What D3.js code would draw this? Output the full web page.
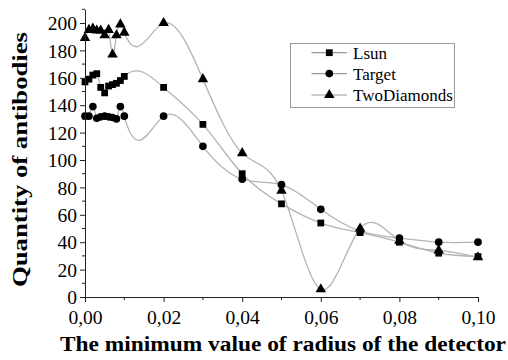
<!DOCTYPE html>
<html><head><meta charset="utf-8">
<script src="https://cdn.jsdelivr.net/npm/d3@7"></script>
<style>
html,body{margin:0;padding:0;background:#fff;}
svg{display:block;}
svg text{font-family:"Liberation Serif","Tinos","Times New Roman","Noto Serif","DejaVu Serif",serif;fill:#000;}
</style></head>
<body>
<svg id="chart" width="508" height="360"></svg>
<script>
// ---- data ----
const radius = [0, 0.001, 0.002, 0.003, 0.004, 0.005, 0.006, 0.007, 0.008, 0.009, 0.01,
                0.02, 0.03, 0.04, 0.05, 0.06, 0.07, 0.08, 0.09, 0.10];
const lsun = [157, 159, 162, 163, 153, 149, 154, 155, 156, 158, 161,
              153, 126, 90, 68, 54, 47, 40, 32, 29.5];
const target = [132, 132, 139, 130.5, 131.5, 132, 131.5, 131, 130, 139, 132,
                132, 110, 86, 82, 64, 48, 43, 40, 40];
const twoDiamonds = [189, 195, 196, 194.5, 194.5, 191, 195, 177, 191, 199, 193,
                     200, 159, 105, 77.6, 5.6, 50, 41, 34, 29];
const seriesNames = ["Lsun", "Target", "TwoDiamonds"];
const seriesMarkers = ["square", "circle", "triangle"];
const xTicks = [0, 0.02, 0.04, 0.06, 0.08, 0.10];
const yTicks = [0, 20, 40, 60, 80, 100, 120, 140, 160, 180, 200];
const xTitle = "The minimum value of radius of the detector";
const yTitle = "Quantity of antibodies";

const seriesValues = [lsun, target, twoDiamonds];

// ---- natural cubic spline in x as a d3 curve ----
function SplineX(context){ this._context = context; }
SplineX.prototype = {
  areaStart(){ this._line = 0; },
  areaEnd(){ this._line = NaN; },
  lineStart(){ this._xs = []; this._ys = []; },
  point(px, py){ this._xs.push(+px); this._ys.push(+py); },
  lineEnd(){
    const X = this._xs, Y = this._ys, n = X.length, c = this._context;
    if (!n) return;
    c.moveTo(X[0], Y[0]);
    if (n < 3) { for (let i = 1; i < n; i++) c.lineTo(X[i], Y[i]); return; }
    const h = [], M = new Array(n).fill(0);
    for (let i = 0; i < n - 1; i++) h.push(X[i+1] - X[i]);
    const m = n - 2, a = [], b = [], cc = [], d = [];
    for (let k = 0; k < m; k++) {
      const i = k + 1;
      a.push(h[i-1]); b.push(2 * (h[i-1] + h[i])); cc.push(h[i]);
      d.push(6 * ((Y[i+1] - Y[i]) / h[i] - (Y[i] - Y[i-1]) / h[i-1]));
    }
    for (let k = 1; k < m; k++) {
      const w = a[k] / b[k-1];
      b[k] -= w * cc[k-1]; d[k] -= w * d[k-1];
    }
    const sol = new Array(m);
    sol[m-1] = d[m-1] / b[m-1];
    for (let k = m - 2; k >= 0; k--) sol[k] = (d[k] - cc[k] * sol[k+1]) / b[k];
    for (let k = 0; k < m; k++) M[k+1] = sol[k];
    for (let i = 0; i < n - 1; i++) {
      const hh = h[i], s = (Y[i+1] - Y[i]) / hh;
      const m0 = s - hh * (2 * M[i] + M[i+1]) / 6;
      const m1 = s + hh * (M[i] + 2 * M[i+1]) / 6;
      c.bezierCurveTo(X[i] + hh/3, Y[i] + m0*hh/3, X[i+1] - hh/3, Y[i+1] - m1*hh/3, X[i+1], Y[i+1]);
    }
  }
};
const curveSplineX = ctx => new SplineX(ctx);

// ---- layout ----
const svg = d3.select("#chart");
const mLeft = 85, mRight = 478, mTop = 9.3, mBottom = 297;
const x = d3.scaleLinear().domain([0, 0.1]).range([mLeft, mRight]);
const y = d3.scaleLinear().domain([0, 210]).range([mBottom, mTop]);
const fmtX = d => d3.format(".2f")(d).replace(".", ",");
const stretch = 1.03;
const serif = '"Liberation Serif","Tinos","Times New Roman","Noto Serif","DejaVu Serif",serif';

// lines
const line = d3.line().x((d, i) => x(radius[i])).y(d => y(d)).curve(curveSplineX);
svg.append("g").selectAll("path").data(seriesValues).join("path")
  .attr("d", d => line(d))
  .attr("fill", "none").attr("stroke", "#b4b4b4").attr("stroke-width", 1.3);

// markers
const sym = {
  square: d3.symbol().type(d3.symbolSquare).size(46),
  circle: d3.symbol().type(d3.symbolCircle).size(46),
  triangle: d3.symbol().type(d3.symbolTriangle).size(48)
};
seriesValues.forEach((vals, si) => {
  svg.append("g").selectAll("path").data(vals).join("path")
    .attr("transform", (d, i) => `translate(${x(radius[i])},${y(d)})`)
    .attr("d", sym[seriesMarkers[si]]())
    .attr("fill", "#000");
});

// y axis
const yAxis = svg.append("g").attr("transform", `translate(${mLeft},0)`)
  .call(d3.axisLeft(y).tickValues(yTicks).tickFormat(d3.format("d")).tickSize(5).tickSizeOuter(0));
yAxis.attr("font-family", serif);
yAxis.select(".domain").attr("stroke", "#222").attr("stroke-width", 1);
yAxis.selectAll(".tick line").attr("stroke", "#222");
yAxis.selectAll("text").attr("font-size", 19)
  .attr("x", -8 / stretch).attr("dy", "0.35em").attr("transform", `scale(${stretch},1)`);
svg.append("g").selectAll("line").data(d3.range(10, 211, 20)).join("line")
  .attr("x1", mLeft - 3).attr("x2", mLeft).attr("y1", d => y(d)).attr("y2", d => y(d))
  .attr("stroke", "#222");

// x axis
const xAxis = svg.append("g").attr("transform", `translate(0,${mBottom})`)
  .call(d3.axisBottom(x).tickValues(xTicks).tickFormat(fmtX).tickSize(5).tickSizeOuter(0));
xAxis.attr("font-family", serif);
xAxis.select(".domain").attr("stroke", "#222").attr("stroke-width", 1);
xAxis.selectAll(".tick line").attr("stroke", "#222");
xAxis.selectAll("text").attr("font-size", 19)
  .attr("y", 27).attr("dy", 0).attr("transform", `scale(${stretch},1)`);
svg.append("g").selectAll("line").data(d3.range(0.01, 0.1, 0.02)).join("line")
  .attr("x1", d => x(d)).attr("x2", d => x(d)).attr("y1", mBottom).attr("y2", mBottom + 3)
  .attr("stroke", "#222");

// axis titles
svg.append("text").attr("x", 283).attr("y", 351).attr("text-anchor", "middle")
  .attr("font-size", 20).attr("font-weight", "bold")
  .attr("textLength", 446).attr("lengthAdjust", "spacingAndGlyphs").text(xTitle);
svg.append("text").attr("transform", "translate(27,159.5) rotate(-90)").attr("text-anchor", "middle")
  .attr("font-size", 20).attr("font-weight", "bold")
  .attr("textLength", 255).attr("lengthAdjust", "spacingAndGlyphs").text(yTitle);

// legend
const lg = svg.append("g");
lg.append("rect").attr("x", 290.5).attr("y", 43.5).attr("width", 164).attr("height", 64)
  .attr("fill", "#fff").attr("stroke", "#999").attr("stroke-width", 1);
const legY = [52.7, 73.6, 95];
seriesNames.forEach((name, i) => {
  lg.append("line").attr("x1", 311.5).attr("x2", 347).attr("y1", legY[i]).attr("y2", legY[i])
    .attr("stroke", "#999").attr("stroke-width", 1.2);
  lg.append("path").attr("transform", `translate(329.3,${legY[i]})`)
    .attr("d", sym[seriesMarkers[i]]()).attr("fill", "#000");
  lg.append("text").attr("x", 353).attr("y", legY[i]).attr("dy", "0.35em")
    .attr("font-size", 17).text(name);
});
</script>
</body></html>
